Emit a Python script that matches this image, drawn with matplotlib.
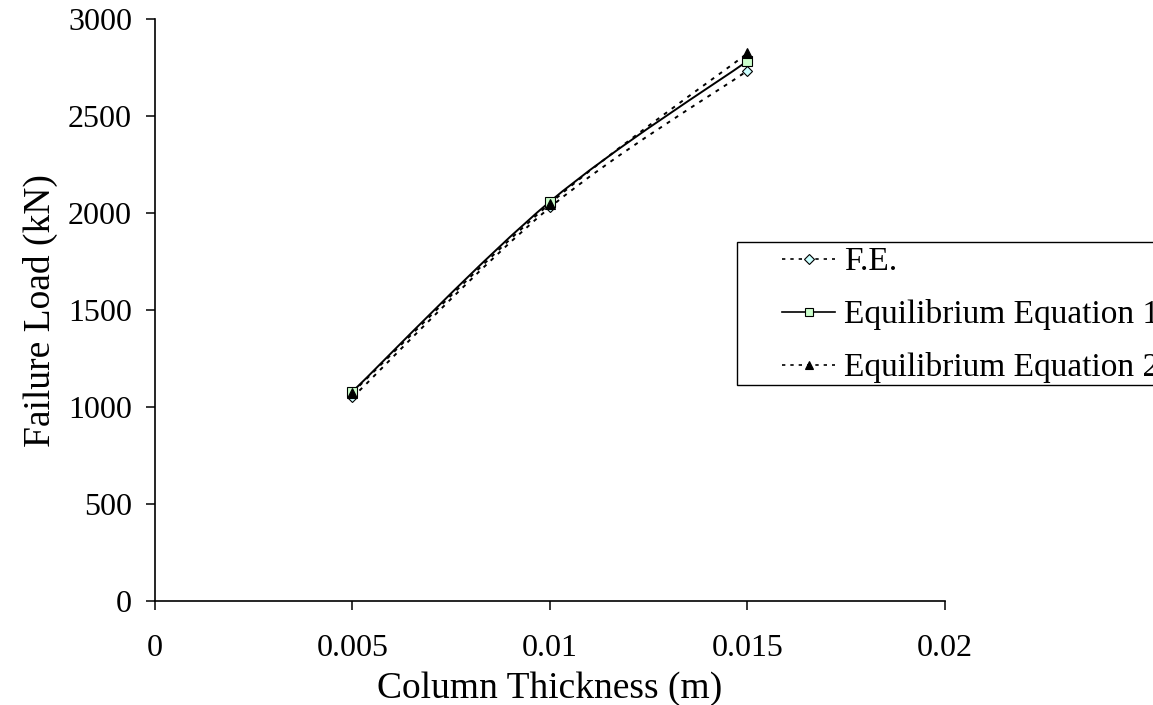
import numpy as np
import matplotlib
matplotlib.use("Agg")
import matplotlib.pyplot as plt
from matplotlib.path import Path
from matplotlib.patches import PathPatch, Rectangle
from matplotlib.lines import Line2D

thickness = [0.005, 0.01, 0.015]
fe = [1050, 2030, 2735]
eq1 = [1080, 2060, 2785]
eq2 = [1075, 2050, 2825]
xticks = [0, 0.005, 0.01, 0.015, 0.02]
xtick_labels = ["0", "0.005", "0.01", "0.015", "0.02"]
yticks = [0, 500, 1000, 1500, 2000, 2500, 3000]

plt.rcParams['font.family'] = ['Liberation Serif', 'DejaVu Serif']

fig = plt.figure(figsize=(11.53, 7.05), dpi=100)
ax = fig.add_axes([0.1344, 0.1475, 0.6852, 0.8251])


def smooth_path(x, y):
    # Catmull-Rom style bezier through the data points (Excel smoothed line)
    x = np.asarray(x, float)
    y = np.asarray(y, float)
    n = len(x)
    verts = [(x[0], y[0])]
    codes = [Path.MOVETO]
    t = 1.0 / 6.0
    for i in range(n - 1):
        p0 = (x[i - 1], y[i - 1]) if i > 0 else (x[i], y[i])
        p1 = (x[i], y[i])
        p2 = (x[i + 1], y[i + 1])
        p3 = (x[i + 2], y[i + 2]) if i + 2 < n else (x[i + 1], y[i + 1])
        c1 = (p1[0] + (p2[0] - p0[0]) * t, p1[1] + (p2[1] - p0[1]) * t)
        c2 = (p2[0] - (p3[0] - p1[0]) * t, p2[1] - (p3[1] - p1[1]) * t)
        verts += [c1, c2, p2]
        codes += [Path.CURVE4] * 3
    return Path(verts, codes)


series = [
    (fe, (0, (2, 3)), 'D', '#CCFFFF', 5.5, 'F.E.'),
    (eq1, '-', 's', '#CCFFCC', 7, 'Equilibrium Equation 1'),
    (eq2, (0, (2, 3)), '^', 'black', 7, 'Equilibrium Equation 2'),
]
handles = []
for vals, ls, mk, fc, ms, lab in series:
    patch = PathPatch(smooth_path(thickness, vals), facecolor='none',
                      edgecolor='black', linewidth=1.4, linestyle=ls, zorder=2)
    ax.add_patch(patch)
    ax.plot(thickness, vals, linestyle='none', marker=mk, markerfacecolor=fc,
            markeredgecolor='black', markeredgewidth=0.8, markersize=ms, zorder=3)
    handles.append(Line2D([], [], color='black', linestyle=ls, linewidth=1.2,
                          marker=mk, markerfacecolor=fc, markeredgecolor='black',
                          markeredgewidth=0.8, markersize=ms * 0.85, label=lab))

ax.set_xlim(0, 0.02)
ax.set_ylim(0, 3000)
ax.set_xticks(xticks)
ax.set_xticklabels(xtick_labels)
ax.set_yticks(yticks)
for s in ['top', 'right']:
    ax.spines[s].set_visible(False)
for s in ['left', 'bottom']:
    ax.spines[s].set_linewidth(1.2)
    ax.spines[s].set_color('black')
ax.tick_params(axis='both', direction='out', length=6.5, width=1.1,
               labelsize=23, colors='black')
ax.tick_params(axis='x', pad=17)
ax.tick_params(axis='y', pad=10)
ax.set_xlabel('Column Thickness (m)', fontsize=27, labelpad=6)
ax.set_ylabel('Failure Load (kN)', fontsize=27, labelpad=7)

# legend frame (box wider than the figure, as in the reference)
frame = Rectangle((0.7367, 0.371), 0.6, 0.246, transform=ax.transAxes,
                  facecolor='white', edgecolor='black', linewidth=1.0,
                  clip_on=False, zorder=4)
ax.add_patch(frame)
leg = ax.legend(handles=handles, loc='upper left', bbox_to_anchor=(0.7937, 0.609),
                fontsize=24, frameon=False,
                handlelength=1.6, handletextpad=0.25, borderpad=0.0,
                labelspacing=0.66, borderaxespad=0)
leg.set_zorder(5)

fig.savefig('out.png', dpi=100)
